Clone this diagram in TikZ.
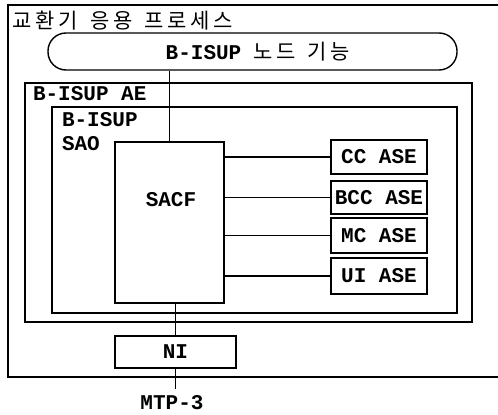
\documentclass[tikz,border=0pt]{standalone}
\usepackage{fontspec}
\setmonofont{Liberation Mono}
\newfontfamily\krfont[LetterSpace=18]{Noto Sans CJK KR}
\usetikzlibrary{calc}

\begin{document}
\begin{tikzpicture}[x=1pt,y=-1pt,line width=1.4pt,
    box/.style={draw,inner sep=0pt},
    txt/.style={inner sep=0pt,font=\ttfamily\bfseries\fontsize{21}{23}\selectfont},
    kor/.style={inner sep=0pt,font=\krfont\fontsize{21}{23}\selectfont}]
    \useasboundingbox (0,0) rectangle (498,415);
    % exchange application process
    \draw[line width=1.6pt] (498,5) -| (8,377) -- (498,377);
    \node[kor,anchor=west] (title) at (12,21) {교환기\hspace{12pt}응용\hspace{12pt}프로세스};
    \node[box,rounded corners=18pt,minimum width=409,minimum height=37] (nodefn) at (252.5,51.5) {};
    \node[txt,anchor=west] (nodefnlbl) at (165,52) {B-ISUP\hspace{12pt}{\krfont\mdseries\fontsize{21}{23}\selectfont 노드\hspace{12pt}기능}};
    % application entity
    \node[box,minimum width=447,minimum height=239] (ae) at (248.5,202.5) {};
    \node[txt,anchor=north west] (aelbl) at ($(ae.north west)+(8,3)$) {B-ISUP AE};
    \node[box,minimum width=405,minimum height=206] (sao) at (254.5,210) {};
    \node[txt,anchor=north west,align=left] (saolbl) at ($(sao.north west)+(10,5)$) {B-ISUP\\[1pt]SAO};
    \node[box,minimum width=109,minimum height=161] (sacf) at (169.5,222.5) {};
    \node[txt] (sacflbl) at (171,200) {SACF};
    % ASEs
    \node[box,txt,minimum width=96,minimum height=34] (cc) at (379,157) {CC ASE};
    \node[box,txt,minimum width=96,minimum height=33] (bcc) at (379,197.5) {BCC ASE};
    \node[box,txt,minimum width=96,minimum height=35] (mc) at (379,235.5) {MC ASE};
    \node[box,txt,minimum width=96,minimum height=36] (ui) at (379,276) {UI ASE};
    \foreach \ase in {cc,bcc,mc,ui}
        \draw (sacf.east |- \ase.west) -- (\ase.west);
    % network interface
    \node[box,txt,minimum width=121,minimum height=32] (ni) at (175.5,352) {NI};
    \node[txt,inner ysep=6pt] (mtp) at (172,403) {MTP-3};
    \draw (nodefn.south -| sacf.north) -- (sacf.north);
    \draw (ni.north |- sacf.south) -- (ni.north);
    \draw (ni.south) -- (ni.south |- mtp.north);
\end{tikzpicture}
\end{document}
